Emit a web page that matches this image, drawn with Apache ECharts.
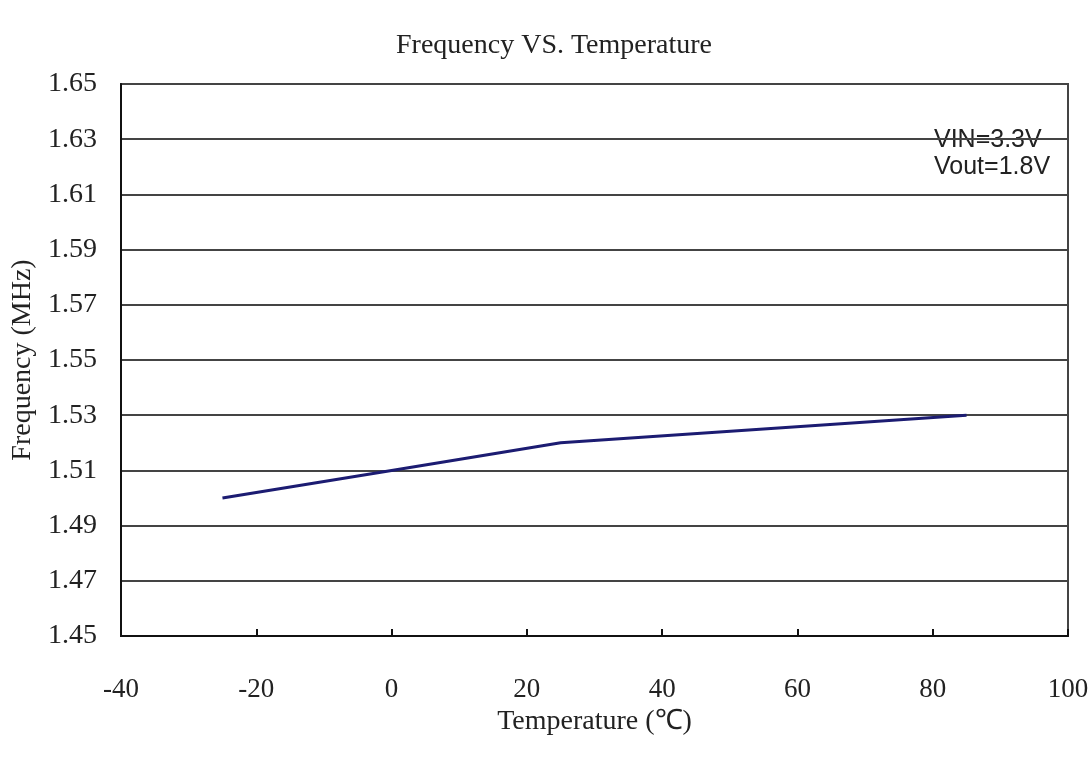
<!DOCTYPE html>
<html>
<head>
<meta charset="utf-8">
<script src="https://cdn.jsdelivr.net/npm/echarts@6/dist/echarts.min.js"></script>
<style>
  html, body { margin: 0; padding: 0; background: #fff; }
  #chart { width: 1092px; height: 759px; }
</style>
</head>
<body>
<div id="chart"></div>
<script>
// 温度 (℃) 与频率 (MHz)
var temps = [-25, 0, 25, 85];
var freqs = [1.50, 1.51, 1.52, 1.53];
var notes = ["VIN=3.3V", "Vout=1.8V"];

var chart = echarts.init(document.getElementById("chart"));
var serif = "Liberation Serif, Times New Roman, serif";

var option = {
  backgroundColor: "#fff",
  animation: false,
  title: {
    text: "Frequency VS. Temperature",
    left: 549,
    top: 27,
    textAlign: "center",
    textStyle: { fontFamily: serif, fontWeight: "normal", fontSize: 28, color: "#222" }
  },
  grid: {
    left: 121,
    top: 84,
    right: 24,
    bottom: 123,
    outerBoundsMode: "none",
    show: true,
    borderColor: "#444",
    borderWidth: 2
  },
  xAxis: {
    type: "value",
    min: -40,
    max: 100,
    interval: 20,
    name: "Temperature (℃)",
    nameLocation: "middle",
    nameGap: 64,
    nameTextStyle: { fontFamily: serif, fontSize: 28, color: "#222" },
    axisLine: { onZero: false, lineStyle: { color: "#111", width: 2 } },
    axisTick: { inside: true, length: 7, lineStyle: { color: "#111", width: 2 } },
    axisLabel: { margin: 40, fontFamily: serif, fontSize: 27, color: "#222" },
    splitLine: { show: false }
  },
  yAxis: {
    type: "value",
    min: 1.45,
    max: 1.65,
    interval: 0.02,
    name: "Frequency (MHz)",
    nameLocation: "middle",
    nameGap: 72,
    nameTextStyle: { fontFamily: serif, fontSize: 28, color: "#222" },
    axisLine: { onZero: false, lineStyle: { color: "#111", width: 2 } },
    axisTick: { show: false },
    axisLabel: {
      margin: 24,
      fontFamily: serif,
      fontSize: 28,
      color: "#222",
      formatter: function (v) { return v.toFixed(2); }
    },
    splitLine: { lineStyle: { color: "#444", width: 2 } }
  },
  graphic: notes.map(function (t, i) {
    return {
      type: "text",
      left: 934,
      top: 128 + i * 27,
      style: { text: t, fontFamily: "Liberation Sans, Arial, sans-serif", fontSize: 25, fill: "#222" }
    };
  }),
  series: [
    {
      type: "line",
      data: temps.map(function (t, i) { return [t, freqs[i]]; }),
      symbol: "none",
      lineStyle: { color: "#1c1c72", width: 3 }
    }
  ]
};

chart.setOption(option);
window.addEventListener("resize", function () { chart.resize(); });
</script>
</body>
</html>
